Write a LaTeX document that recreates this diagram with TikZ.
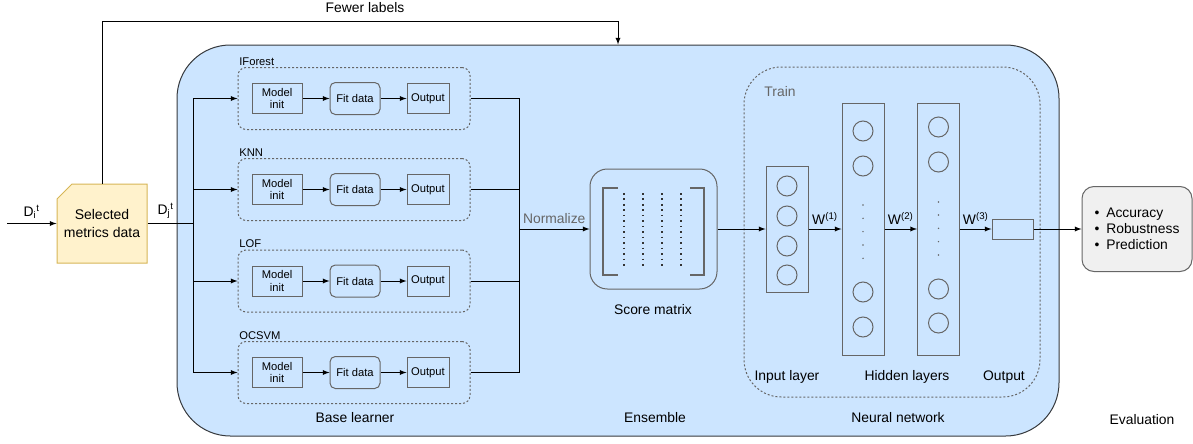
\documentclass[tikz,border=0pt]{standalone}
\usepackage{fontspec}
\setmainfont{Liberation Sans}
\usetikzlibrary{positioning}
\definecolor{ensblue}{HTML}{CCE5FF}
\definecolor{ensline}{HTML}{36393D}
\definecolor{cardfill}{HTML}{FFF2CC}
\definecolor{cardline}{HTML}{D6B656}
\definecolor{evalfill}{HTML}{F0F0F0}
\definecolor{boxline}{HTML}{666666}
\tikzset{
  lbl/.style={font=\fontsize{10.4}{12}\selectfont},
  small/.style={font=\fontsize{8.4}{9.5}\selectfont, align=center},
  stepbox/.style={draw=boxline, small, minimum width=37.5pt, minimum height=22.5pt, inner sep=1pt},
  fitbox/.style={stepbox, rounded corners=4pt, minimum height=24pt},
  outbox/.style={stepbox, minimum width=31.5pt},
  learner/.style={draw=boxline, dash pattern=on 1.5pt off 1.5pt, rounded corners=6pt, minimum width=174pt, minimum height=46.5pt},
  layerbox/.style={draw=boxline, minimum width=31.5pt},
  neuron/.style={draw=boxline, circle, minimum size=15pt, inner sep=0pt},
}
\begin{document}
\begin{tikzpicture}[>=latex, x=0.75pt, y=-0.75pt, line width=0.75pt, lbl]
  \useasboundingbox (0,0) rectangle (1193,443);
  % ensemble
  \node[draw=ensline, fill=ensblue, rounded corners=40pt, minimum width=661.5pt, minimum height=293.25pt] (ens) at (618,240.5) {};
  % selected metrics data
  \draw[draw=cardline, fill=cardfill] (72,184) -- (147,184) -- (147,263) -- (57,263) -- (57,199) -- cycle;
  \node[minimum width=67.5pt, minimum height=59.25pt, align=center, font=\fontsize{10.5}{13}\selectfont] (card) at (102,223.5) {Selected\\metrics data};
  \coordinate (din) at (7,223.5);
  \draw[->] (din) -- (card.west) node[midway, above]{D\textsubscript{i}\textsuperscript{t}};
  \coordinate (split) at (193,223.5);
  \draw (card.east) -- (split) node[pos=0.4, above]{D\textsubscript{j}\textsuperscript{t}};
  \node (fewer) at (365,8) {Fewer labels};
  \draw[->] (card.north) |- ([yshift=17.25pt]ens.north) -- (ens.north);
  % base learners
  \coordinate (merge) at (519,229);
  \foreach \name/\title/\yy in {ifor/IForest/98.5, knn/KNN/189.5, lof/LOF/281, ocsvm/OCSVM/372.5} {
    \node[learner] (\name) at (354,\yy) {};
    \node[small, anchor=south west, inner sep=1pt] (\name-t) at (\name.north west) {\title};
    \node[stepbox] (\name-init) at (277,\yy) {Model\\init};
    \node[fitbox] (\name-fit) at (355,\yy) {Fit data};
    \node[outbox] (\name-out) at (428,\yy) {Output};
    \draw[->] (\name-init) -- (\name-fit);
    \draw[->] (\name-fit) -- (\name-out);
    \draw[->] (split) |- (\name.west);
    \draw (\name.east) -| (merge);
  }
  \node (base-t) at (355,418) {Base learner};
  % score matrix
  \node[draw=boxline, rounded corners=13pt, minimum width=95.25pt, minimum height=90pt] (score) at (653.5,229) {};
  \draw[->] (merge) -- (score.west) node[midway, above, text=boxline]{Normalize};
  \draw[boxline, line width=1.2pt] (618,188) -- (603,188) -- (603,275) -- (618,275);
  \draw[boxline, line width=1.2pt] (690,188) -- (704,188) -- (704,275) -- (690,275);
  \foreach \xx in {624,643,662,681}
    \draw[black!80, line width=1.2pt, dash pattern=on 1.2pt off 2.9pt] (\xx,193) -- (\xx,268);
  \node (score-t) at (653,310) {Score matrix};
  \node (ens-t) at (655,418) {Ensemble};
  % neural network
  \node[draw=boxline, dash pattern=on 1.5pt off 1.5pt, rounded corners=28pt, minimum width=222pt, minimum height=247.5pt] (train) at (892,232) {};
  \node[text=boxline] (train-t) at (780,92) {Train};
  \node[layerbox, minimum height=94.5pt] (inl) at (787,229) {};
  \node[layerbox, minimum height=189pt] (hid1) at (863,229) {};
  \node[layerbox, minimum height=189pt] (hid2) at (938.5,229) {};
  \node[draw=boxline, minimum width=30.75pt, minimum height=15pt] (outl) at (1012.5,229) {};
  \foreach \yy [count=\i] in {186,216,246,275}
    \node[neuron] (in\i) at (787,\yy) {};
  \foreach \yy [count=\i] in {131,166,292,327}
    \node[neuron] (ha\i) at (863,\yy) {};
  \foreach \yy [count=\i] in {127,162,289,323}
    \node[neuron] (hb\i) at (938.5,\yy) {};
  \foreach \yy in {205,218.3,231.6,245,258.3}
    \fill[boxline] (863,\yy) circle (0.6pt);
  \foreach \yy in {202,215,228.3,241.6,255}
    \fill[boxline] (938.5,\yy) circle (0.6pt);
  \draw[->] (score) -- (inl);
  \draw[->] (inl) -- (hid1) node[midway, above]{W\textsuperscript{(1)}};
  \draw[->] (hid1) -- (hid2) node[midway, above]{W\textsuperscript{(2)}};
  \draw[->] (hid2) -- (outl) node[midway, above]{W\textsuperscript{(3)}};
  \node (inl-t) at (787,377) {Input layer};
  \node (hid-t) at (907,377) {Hidden layers};
  \node (outl-t) at (1004,377) {Output};
  \node (nn-t) at (898,418) {Neural network};
  % evaluation
  \node[draw=boxline, fill=evalfill, rounded corners=9pt, minimum width=82.5pt, minimum height=63.75pt, align=left] (eval) at (1137,229)
    {\textbullet\enspace Accuracy\\\textbullet\enspace Robustness\\\textbullet\enspace Prediction};
  \draw[->] (outl) -- (outl -| eval.west);
  \node (eval-t) at (1142,420) {Evaluation};
\end{tikzpicture}
\end{document}
